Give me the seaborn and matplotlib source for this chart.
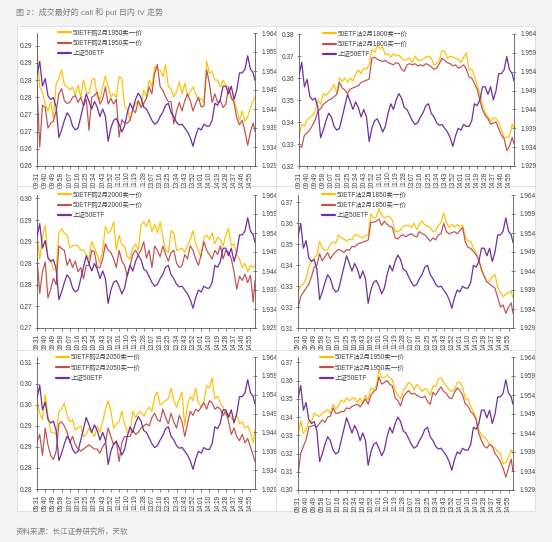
import numpy as np
import pandas as pd
import matplotlib
matplotlib.use('Agg')
import matplotlib.pyplot as plt
import seaborn as sns
from matplotlib.patches import Rectangle
from matplotlib.lines import Line2D

sns.set_theme(style='white')
plt.rcParams['font.family'] = ['Liberation Sans', 'Noto Sans CJK SC']

minutes = list(range(0, 240, 3)) + [239]

time_ticks = ['09:31', '09:40', '09:49', '09:58', '10:07', '10:16', '10:25', '10:34', '10:43',
              '10:52', '11:01', '11:10', '11:19', '11:28', '13:07', '13:16', '13:25', '13:34',
              '13:43', '13:52', '14:01', '14:10', '14:19', '14:28', '14:37', '14:46', '14:55']
etf_ticks = ['1.929', '1.934', '1.939', '1.944', '1.949', '1.954', '1.959', '1.964']

# 上证50ETF (правая ось, одинаковая во всех панелях)
etf_50 = [1.9530, 1.9565, 1.9500, 1.9520, 1.9475, 1.9465, 1.9470, 1.9445, 1.9365, 1.9385,
          1.9410, 1.9430, 1.9420, 1.9395, 1.9385, 1.9390, 1.9420, 1.9450, 1.9480, 1.9460,
          1.9440, 1.9460, 1.9445, 1.9420, 1.9440, 1.9420, 1.9355, 1.9390, 1.9410, 1.9415,
          1.9400, 1.9380, 1.9395, 1.9430, 1.9455, 1.9440, 1.9465, 1.9482, 1.9470, 1.9445,
          1.9440, 1.9425, 1.9410, 1.9400, 1.9405, 1.9420, 1.9432, 1.9450, 1.9455, 1.9430,
          1.9420, 1.9405, 1.9398, 1.9400, 1.9390, 1.9380, 1.9365, 1.9342, 1.9370, 1.9390,
          1.9385, 1.9400, 1.9395, 1.9395, 1.9410, 1.9455, 1.9450, 1.9465, 1.9500, 1.9500,
          1.9480, 1.9500, 1.9465, 1.9490, 1.9535, 1.9535, 1.9545, 1.9580, 1.9545, 1.9535,
          1.9515]

call1950_ask = [0.2938, 0.2831, 0.2815, 0.2782, 0.2760, 0.2785, 0.2740, 0.2840, 0.2855, 0.2880,
                0.2836, 0.2831, 0.2821, 0.2830, 0.2806, 0.2836, 0.2800, 0.2850, 0.2815, 0.2811,
                0.2850, 0.2855, 0.2800, 0.2792, 0.2830, 0.2862, 0.2831, 0.2801, 0.2811, 0.2800,
                0.2860, 0.2855, 0.2775, 0.2765, 0.2733, 0.2765, 0.2780, 0.2790, 0.2775, 0.2821,
                0.2801, 0.2850, 0.2830, 0.2890, 0.2880, 0.2880, 0.2860, 0.2895, 0.2831, 0.2825,
                0.2801, 0.2816, 0.2845, 0.2811, 0.2841, 0.2801, 0.2816, 0.2830, 0.2810, 0.2790,
                0.2795, 0.2785, 0.2905, 0.2870, 0.2875, 0.2850, 0.2850, 0.2830, 0.2850, 0.2835,
                0.2830, 0.2795, 0.2790, 0.2765, 0.2733, 0.2760, 0.2730, 0.2743, 0.2770, 0.2790,
                0.2801]
call1950_bid = [0.2831, 0.2655, 0.2777, 0.2770, 0.2710, 0.2725, 0.2730, 0.2760, 0.2810, 0.2825,
                0.2790, 0.2782, 0.2785, 0.2800, 0.2805, 0.2785, 0.2800, 0.2775, 0.2795, 0.2704,
                0.2800, 0.2805, 0.2815, 0.2780, 0.2795, 0.2830, 0.2780, 0.2797, 0.2780, 0.2795,
                0.2684, 0.2735, 0.2725, 0.2725, 0.2733, 0.2765, 0.2755, 0.2790, 0.2770, 0.2782,
                0.2797, 0.2830, 0.2810, 0.2870, 0.2895, 0.2831, 0.2820, 0.2801, 0.2787, 0.2787,
                0.2723, 0.2760, 0.2785, 0.2760, 0.2790, 0.2810, 0.2790, 0.2760, 0.2782, 0.2800,
                0.2772, 0.2775, 0.2880, 0.2840, 0.2785, 0.2810, 0.2785, 0.2790, 0.2770, 0.2780,
                0.2830, 0.2800, 0.2785, 0.2740, 0.2720, 0.2733, 0.2700, 0.2660, 0.2700, 0.2725,
                0.2700]

put1800_ask = [0.3330, 0.3390, 0.3380, 0.3410, 0.3420, 0.3430, 0.3450, 0.3500, 0.3480, 0.3530,
               0.3520, 0.3535, 0.3550, 0.3570, 0.3530, 0.3600, 0.3585, 0.3600, 0.3580, 0.3600,
               0.3585, 0.3620, 0.3636, 0.3620, 0.3645, 0.3640, 0.3660, 0.3730, 0.3715, 0.3745,
               0.3735, 0.3740, 0.3705, 0.3710, 0.3695, 0.3710, 0.3700, 0.3705, 0.3690, 0.3680,
               0.3685, 0.3690, 0.3670, 0.3700, 0.3680, 0.3680, 0.3685, 0.3695, 0.3700, 0.3690,
               0.3660, 0.3665, 0.3680, 0.3725, 0.3720, 0.3690, 0.3700, 0.3695, 0.3690, 0.3685,
               0.3670, 0.3695, 0.3715, 0.3636, 0.3640, 0.3610, 0.3570, 0.3530, 0.3480, 0.3440,
               0.3425, 0.3405, 0.3420, 0.3415, 0.3400, 0.3365, 0.3330, 0.3330, 0.3335, 0.3390,
               0.3370]
put1800_bid = [0.3290, 0.3285, 0.3340, 0.3350, 0.3365, 0.3385, 0.3410, 0.3450, 0.3460, 0.3480,
               0.3490, 0.3500, 0.3505, 0.3515, 0.3525, 0.3580, 0.3555, 0.3545, 0.3530, 0.3550,
               0.3555, 0.3560, 0.3565, 0.3580, 0.3585, 0.3590, 0.3595, 0.3690, 0.3695, 0.3685,
               0.3680, 0.3675, 0.3680, 0.3670, 0.3665, 0.3660, 0.3670, 0.3665, 0.3640, 0.3630,
               0.3660, 0.3665, 0.3660, 0.3665, 0.3655, 0.3660, 0.3655, 0.3665, 0.3660, 0.3650,
               0.3640, 0.3645, 0.3665, 0.3690, 0.3680, 0.3670, 0.3665, 0.3655, 0.3660, 0.3645,
               0.3650, 0.3660, 0.3640, 0.3605, 0.3600, 0.3575, 0.3550, 0.3500, 0.3455, 0.3430,
               0.3415, 0.3390, 0.3395, 0.3400, 0.3370, 0.3340, 0.3325, 0.3270, 0.3290, 0.3330,
               0.3300]

call2000_ask = [0.2915, 0.2860, 0.2910, 0.2938, 0.2860, 0.2858, 0.2835, 0.2835, 0.2920, 0.2930,
                0.2920, 0.2915, 0.2886, 0.2890, 0.2892, 0.2890, 0.2880, 0.2880, 0.2870, 0.2860,
                0.2900, 0.2885, 0.2870, 0.2850, 0.2880, 0.2935, 0.2920, 0.2925, 0.2946, 0.2880,
                0.2915, 0.2892, 0.2890, 0.2865, 0.2860, 0.2885, 0.2895, 0.2880, 0.2938, 0.2946,
                0.2935, 0.2952, 0.2923, 0.2940, 0.2920, 0.2946, 0.2910, 0.2880, 0.2875, 0.2925,
                0.2920, 0.2880, 0.2882, 0.2885, 0.2875, 0.2890, 0.2905, 0.2925, 0.2895, 0.2880,
                0.2865, 0.2910, 0.2915, 0.2905, 0.2920, 0.2895, 0.2910, 0.2905, 0.2890, 0.2915,
                0.2930, 0.2890, 0.2895, 0.2870, 0.2860, 0.2840, 0.2850, 0.2830, 0.2845, 0.2840,
                0.2845]
call2000_bid = [0.2861, 0.2780, 0.2830, 0.2853, 0.2770, 0.2790, 0.2815, 0.2800, 0.2890, 0.2884,
                0.2880, 0.2845, 0.2860, 0.2840, 0.2855, 0.2830, 0.2840, 0.2814, 0.2845, 0.2845,
                0.2880, 0.2876, 0.2840, 0.2840, 0.2860, 0.2895, 0.2880, 0.2875, 0.2860, 0.2840,
                0.2880, 0.2855, 0.2845, 0.2820, 0.2845, 0.2870, 0.2880, 0.2870, 0.2880, 0.2900,
                0.2862, 0.2880, 0.2840, 0.2890, 0.2880, 0.2865, 0.2890, 0.2870, 0.2855, 0.2875,
                0.2880, 0.2850, 0.2840, 0.2845, 0.2870, 0.2860, 0.2890, 0.2880, 0.2860, 0.2845,
                0.2870, 0.2900, 0.2880, 0.2870, 0.2860, 0.2880, 0.2870, 0.2890, 0.2860, 0.2880,
                0.2876, 0.2860, 0.2830, 0.2790, 0.2820, 0.2810, 0.2825, 0.2805, 0.2822, 0.2760,
                0.2810]

put1850_ask = [0.3275, 0.3300, 0.3310, 0.3335, 0.3390, 0.3420, 0.3433, 0.3449, 0.3513, 0.3480,
               0.3470, 0.3475, 0.3500, 0.3510, 0.3505, 0.3545, 0.3530, 0.3525, 0.3515, 0.3525,
               0.3520, 0.3545, 0.3545, 0.3535, 0.3530, 0.3540, 0.3545, 0.3645, 0.3625, 0.3630,
               0.3670, 0.3640, 0.3624, 0.3635, 0.3630, 0.3615, 0.3560, 0.3560, 0.3570, 0.3585,
               0.3590, 0.3590, 0.3580, 0.3600, 0.3570, 0.3595, 0.3610, 0.3592, 0.3585, 0.3580,
               0.3560, 0.3565, 0.3590, 0.3605, 0.3650, 0.3605, 0.3580, 0.3595, 0.3580, 0.3595,
               0.3585, 0.3592, 0.3535, 0.3515, 0.3515, 0.3481, 0.3460, 0.3420, 0.3375, 0.3350,
               0.3320, 0.3325, 0.3345, 0.3355, 0.3295, 0.3270, 0.3250, 0.3260, 0.3270, 0.3275,
               0.3245]
put1850_bid = [0.3195, 0.3250, 0.3270, 0.3290, 0.3310, 0.3345, 0.3390, 0.3400, 0.3455, 0.3420,
               0.3440, 0.3460, 0.3430, 0.3450, 0.3465, 0.3475, 0.3470, 0.3460, 0.3475, 0.3470,
               0.3490, 0.3487, 0.3500, 0.3505, 0.3510, 0.3515, 0.3520, 0.3605, 0.3605, 0.3610,
               0.3620, 0.3590, 0.3610, 0.3595, 0.3585, 0.3580, 0.3530, 0.3525, 0.3540, 0.3545,
               0.3535, 0.3545, 0.3550, 0.3540, 0.3535, 0.3560, 0.3550, 0.3545, 0.3530, 0.3515,
               0.3530, 0.3520, 0.3545, 0.3550, 0.3600, 0.3560, 0.3550, 0.3555, 0.3560, 0.3550,
               0.3565, 0.3580, 0.3510, 0.3485, 0.3480, 0.3465, 0.3450, 0.3425, 0.3380, 0.3345,
               0.3320, 0.3310, 0.3300, 0.3290, 0.3245, 0.3200, 0.3210, 0.3170, 0.3200, 0.3220,
               0.3170]

call2050_ask = [0.3013, 0.2980, 0.2965, 0.3025, 0.2975, 0.2935, 0.2935, 0.2930, 0.2985, 0.2990,
                0.3005, 0.2975, 0.2960, 0.2965, 0.2940, 0.2945, 0.2950, 0.2925, 0.2930, 0.2945,
                0.2935, 0.2925, 0.2949, 0.2935, 0.2960, 0.2990, 0.3010, 0.2985, 0.2945, 0.2955,
                0.2960, 0.2985, 0.2955, 0.2935, 0.2935, 0.2985, 0.2970, 0.2980, 0.2985, 0.2973,
                0.2985, 0.2995, 0.2985, 0.3020, 0.3030, 0.3000, 0.3005, 0.3010, 0.3015, 0.3040,
                0.3010, 0.2995, 0.3015, 0.3030, 0.2950, 0.3000, 0.3020, 0.3010, 0.3040, 0.3005,
                0.2995, 0.3010, 0.3045, 0.3040, 0.3064, 0.3015, 0.3020, 0.3005, 0.2995, 0.2975,
                0.2980, 0.2970, 0.2960, 0.2975, 0.2955, 0.2960, 0.2945, 0.2950, 0.2935, 0.2910,
                0.2940]
call2050_bid = [0.2910, 0.2930, 0.2880, 0.2945, 0.2905, 0.2880, 0.2870, 0.2890, 0.2955, 0.2960,
                0.2950, 0.2935, 0.2910, 0.2925, 0.2905, 0.2895, 0.2890, 0.2895, 0.2900, 0.2905,
                0.2900, 0.2895, 0.2895, 0.2885, 0.2900, 0.2910, 0.2945, 0.2925, 0.2905, 0.2915,
                0.2865, 0.2910, 0.2925, 0.2925, 0.2925, 0.2940, 0.2930, 0.2935, 0.2945, 0.2950,
                0.2955, 0.2950, 0.2970, 0.2980, 0.2965, 0.2960, 0.2990, 0.2970, 0.2955, 0.2980,
                0.2960, 0.2945, 0.2975, 0.2960, 0.2925, 0.2955, 0.2985, 0.2975, 0.2990, 0.2985,
                0.2995, 0.3005, 0.2990, 0.3010, 0.3005, 0.2990, 0.2995, 0.2990, 0.2975, 0.2985,
                0.2960, 0.2930, 0.2945, 0.2925, 0.2915, 0.2930, 0.2910, 0.2920, 0.2900, 0.2880,
                0.2865]

put1950_ask = [0.3300, 0.3380, 0.3310, 0.3330, 0.3375, 0.3375, 0.3420, 0.3410, 0.3403, 0.3421,
               0.3430, 0.3440, 0.3420, 0.3470, 0.3445, 0.3460, 0.3494, 0.3480, 0.3505, 0.3490,
               0.3500, 0.3505, 0.3480, 0.3505, 0.3476, 0.3520, 0.3494, 0.3560, 0.3550, 0.3570,
               0.3660, 0.3615, 0.3615, 0.3630, 0.3615, 0.3604, 0.3545, 0.3520, 0.3500, 0.3545,
               0.3567, 0.3590, 0.3580, 0.3550, 0.3580, 0.3560, 0.3540, 0.3555, 0.3549, 0.3520,
               0.3570, 0.3567, 0.3610, 0.3615, 0.3590, 0.3570, 0.3549, 0.3540, 0.3550, 0.3590,
               0.3590, 0.3565, 0.3500, 0.3500, 0.3458, 0.3430, 0.3395, 0.3329, 0.3300, 0.3290,
               0.3275, 0.3250, 0.3240, 0.3230, 0.3210, 0.3200, 0.3145, 0.3150, 0.3180, 0.3220,
               0.3200]
put1950_bid = [0.3080, 0.3200, 0.3240, 0.3275, 0.3345, 0.3350, 0.3355, 0.3345, 0.3366, 0.3384,
               0.3370, 0.3400, 0.3405, 0.3450, 0.3420, 0.3421, 0.3430, 0.3430, 0.3450, 0.3445,
               0.3458, 0.3465, 0.3470, 0.3455, 0.3476, 0.3500, 0.3470, 0.3520, 0.3540, 0.3550,
               0.3620, 0.3580, 0.3590, 0.3600, 0.3580, 0.3570, 0.3505, 0.3490, 0.3460, 0.3510,
               0.3531, 0.3545, 0.3525, 0.3530, 0.3520, 0.3510, 0.3505, 0.3515, 0.3485, 0.3470,
               0.3535, 0.3520, 0.3545, 0.3565, 0.3540, 0.3530, 0.3505, 0.3500, 0.3535, 0.3560,
               0.3545, 0.3520, 0.3470, 0.3460, 0.3430, 0.3415, 0.3385, 0.3310, 0.3270, 0.3240,
               0.3230, 0.3250, 0.3240, 0.3200, 0.3180, 0.3155, 0.3120, 0.3070, 0.3120, 0.3170,
               0.3100]

GOLD = '#FFC000'
RED = '#C0504D'
PURPLE = '#7030A0'
AXIS = '#595959'
TXT = '#404040'

W, H = 552, 542

# панели: данные, подписи, шкала левой оси и положение в пикселях (left, top, right, bottom)
panels = [
    dict(ask=call1950_ask, bid=call1950_bid, name='50ETF购2月1950',
         ylim=(0.26, 0.2987), step=0.005,
         ylabels=['0.26', '0.26', '0.27', '0.27', '0.28', '0.28', '0.29', '0.29'],
         box=(37, 33, 255, 166), leg=(0.096, 1.025)),
    dict(ask=put1800_ask, bid=put1800_bid, name='50ETF沽2月1800',
         ylim=(0.32, 0.38), step=0.01,
         ylabels=['0.32', '0.33', '0.34', '0.35', '0.36', '0.37', '0.38'],
         box=(299, 34, 514, 166), leg=(0.11, 1.025)),
    dict(ask=call2000_ask, bid=call2000_bid, name='50ETF购2月2000',
         ylim=(0.27, 0.3008), step=0.005,
         ylabels=['0.27', '0.27', '0.28', '0.28', '0.29', '0.29', '0.30'],
         box=(37, 195, 255, 328), leg=(0.096, 1.025)),
    dict(ask=put1850_ask, bid=put1850_bid, name='50ETF沽2月1850',
         ylim=(0.31, 0.3735), step=0.01,
         ylabels=['0.31', '0.32', '0.33', '0.34', '0.35', '0.36', '0.37'],
         box=(298, 195, 513, 328), leg=(0.11, 1.025)),
    dict(ask=call2050_ask, bid=call2050_bid, name='50ETF购2月2050',
         ylim=(0.28, 0.3114), step=0.005,
         ylabels=['0.28', '0.28', '0.29', '0.29', '0.30', '0.30', '0.31'],
         box=(37, 357, 255, 489), leg=(0.085, 1.02)),
    dict(ask=put1950_ask, bid=put1950_bid, name='50ETF沽2月1950',
         ylim=(0.30, 0.3729), step=0.01,
         ylabels=['0.30', '0.31', '0.32', '0.33', '0.34', '0.35', '0.36', '0.37'],
         box=(298, 357, 513, 490), leg=(0.10, 1.02)),
]

fig = plt.figure(figsize=(W / 100, H / 100), dpi=100, facecolor='#f4f4f4')

# белая подложка и разделители панелей
fig.add_artist(Rectangle((17 / W, 1 - 511 / H), (535 - 17) / W, (511 - 26) / H,
                         transform=fig.transFigure, facecolor='white',
                         edgecolor='#dddddd', lw=0.6, zorder=0))
fig.add_artist(Line2D([276 / W, 276 / W], [1 - 511 / H, 1 - 26 / H],
                      transform=fig.transFigure, color='#dddddd', lw=0.6))
for yy in (186, 350):
    fig.add_artist(Line2D([17 / W, 535 / W], [1 - yy / H, 1 - yy / H],
                          transform=fig.transFigure, color='#dddddd', lw=0.6))

tick_pos = np.arange(0, 240, 9)[:len(time_ticks)]

for p in panels:
    l, t, r, b = p['box']
    ax = fig.add_axes([l / W, 1 - b / H, (r - l) / W, (b - t) / H])
    ax.set_facecolor('none')

    sns.lineplot(x=minutes, y=p['ask'], ax=ax, color=GOLD, linewidth=0.85,
                 label=p['name'] + '卖一价')
    sns.lineplot(x=minutes, y=p['bid'], ax=ax, color=RED, linewidth=0.85,
                 label=p['name'] + '买一价')
    ax2 = ax.twinx()
    sns.lineplot(x=minutes, y=etf_50, ax=ax2, color=PURPLE, linewidth=0.9,
                 label='上证50ETF')

    lo, hi = p['ylim']
    ax.set_xlim(0, 239)
    ax.set_ylim(lo, hi)
    yt = lo + p['step'] * np.arange(len(p['ylabels']))
    ax.set_yticks(yt)
    ax.set_yticklabels(p['ylabels'])
    ax.set_xticks(tick_pos)
    ax.set_xticklabels(time_ticks, rotation=90)
    ax.set_xlabel('')
    ax.set_ylabel('')

    ax2.set_ylim(1.929, 1.964)
    ax2.set_yticks([float(v) for v in etf_ticks])
    ax2.set_yticklabels(etf_ticks)
    ax2.set_ylabel('')

    for a in (ax, ax2):
        a.spines['top'].set_visible(False)
        for side in ('left', 'right', 'bottom'):
            a.spines[side].set_color(AXIS)
            a.spines[side].set_linewidth(0.6)
    ax.spines['right'].set_visible(False)
    ax2.spines['left'].set_visible(False)
    ax2.spines['bottom'].set_visible(False)

    ax.tick_params(axis='y', direction='inout', length=3, width=0.5, colors=AXIS,
                   labelcolor=TXT, labelsize=4.7, pad=2, left=True)
    ax.tick_params(axis='x', direction='out', length=2.5, width=0.5, colors=AXIS,
                   labelcolor=TXT, labelsize=4.7, pad=1.5, bottom=True)
    ax2.tick_params(axis='y', direction='inout', length=3, width=0.5, colors=AXIS,
                    labelcolor=TXT, labelsize=4.7, pad=3, right=True)
    ax.grid(False)
    ax2.grid(False)

    # общая легенда из обеих осей
    h1, lab1 = ax.get_legend_handles_labels()
    h2, lab2 = ax2.get_legend_handles_labels()
    if ax.get_legend() is not None:
        ax.get_legend().remove()
    if ax2.get_legend() is not None:
        ax2.get_legend().remove()
    leg = ax2.legend(h1 + h2, lab1 + lab2, loc='upper left', bbox_to_anchor=p['leg'],
                     frameon=False, fontsize=4.7, handlelength=2.0, handletextpad=0.3,
                     labelspacing=0.5, borderpad=0, borderaxespad=0)
    for h in leg.legend_handles:
        h.set_linewidth(1.6)
    for txt in leg.get_texts():
        txt.set_color(TXT)

fig.text(16 / W, 1 - 12 / H, '图 2：成交最好的 call 和 put 日内 IV 走势', fontsize=5.8,
         color='#7f7f7f', va='center', ha='left')
fig.text(16 / W, 1 - 532 / H, '资料来源：长江证券研究所，天软', fontsize=5.4,
         color='#7f7f7f', va='center', ha='left')

fig.savefig('out.png', dpi=100, facecolor=fig.get_facecolor())
